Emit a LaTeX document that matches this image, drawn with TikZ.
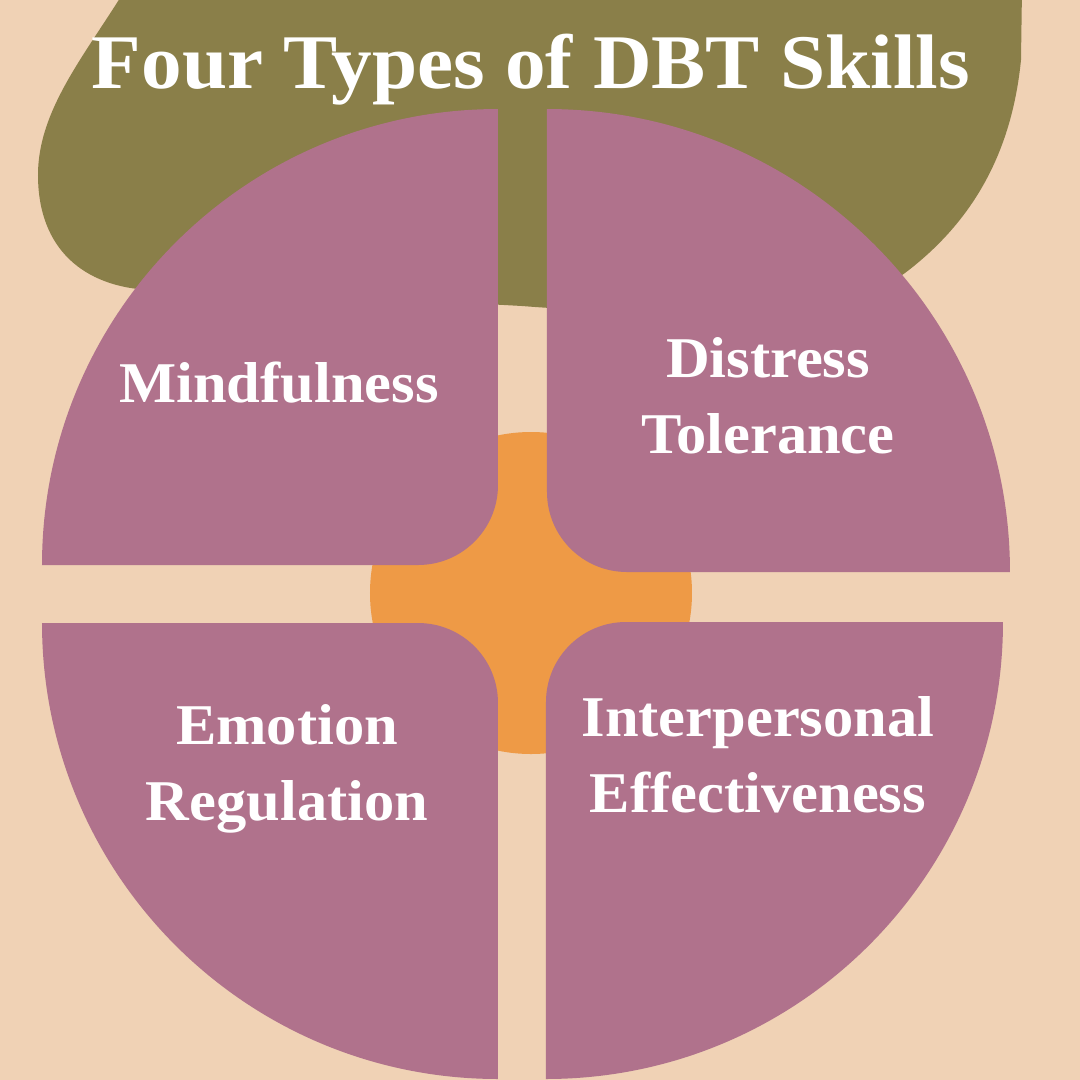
\documentclass[tikz,border=0pt]{standalone}
\usepackage{fontspec}
\setmainfont{Liberation Serif}[FakeStretch=1.05]
\usepackage{tikz}
\usetikzlibrary{positioning}

\definecolor{peach}{HTML}{F0D2B5}
\definecolor{blobolive}{HTML}{8A7F49}
\definecolor{petalpink}{HTML}{B0728C}
\definecolor{coreorange}{HTML}{EE9A46}

\begin{document}
\begin{tikzpicture}[
    x=0.1mm, y=-0.1mm,
    every node/.style={
        font=\fontsize{16.4pt}{21.6pt}\selectfont\bfseries,
        text=white,
        inner sep=0pt
    },
    petal/.style={
        fill=petalpink
    },
    skill/.style={
        align=center,
        anchor=base
    },
    heading/.style={
        font=\fontsize{22pt}{26pt}\selectfont\bfseries,
        anchor=base
    }
]

\useasboundingbox (0,0) rectangle (1080,1080);

\begin{scope}
\clip (0,0) rectangle (1080,1080);

% ===========================================================
% BACKGROUND
% ===========================================================

\fill[peach] (0,0) rectangle (1080,1080);

% Olive blob behind the title
\fill[blobolive] (125,-10)
    .. controls (85,55) and (38,110) .. (38,175)
    .. controls (38,250) and (85,287) .. (150,290)
    .. controls (300,298) and (420,300) .. (522,306)
    .. controls (650,316) and (840,318) .. (905,273)
    .. controls (975,220) and (1012,150) .. (1021,60)
    -- (1022,-10) -- cycle;

% Orange core
\fill[coreorange] (531,593) circle[radius=161];

% ===========================================================
% FOUR PETALS
% ===========================================================

% top left
\fill[petal] (498,109) -- (498,485)
    arc[start angle=0, end angle=90, radius=80]
    -- (42,565)
    arc[start angle=180, end angle=270, radius=456] -- cycle;

% top right
\fill[petal] (547,109) -- (547,492)
    arc[start angle=180, end angle=90, radius=80]
    -- (1010,572)
    arc[start angle=0, end angle=-90, radius=463] -- cycle;

% bottom left
\fill[petal] (498,1079) -- (498,703)
    arc[start angle=0, end angle=-90, radius=80]
    -- (42,623)
    arc[start angle=180, end angle=90, radius=456] -- cycle;

% bottom right
\fill[petal] (546,1079) -- (546,702)
    arc[start angle=180, end angle=270, radius=80]
    -- (1003,622)
    arc[start angle=0, end angle=90, radius=457] -- cycle;

\end{scope}

% ===========================================================
% TEXT
% ===========================================================

\node[heading] (title) at (531,88) {Four Types of DBT Skills};

\node[skill] (mindful) at (279,402) {Mindfulness};

% base anchor sits on the last line
\node[skill] (distress) at (768,453) {Distress\\Tolerance};

\node[skill] (emotion) at (287,820) {Emotion\\Regulation};

\node[skill] (interp) at (758,812) {Interpersonal\\Effectiveness};

\end{tikzpicture}
\end{document}
